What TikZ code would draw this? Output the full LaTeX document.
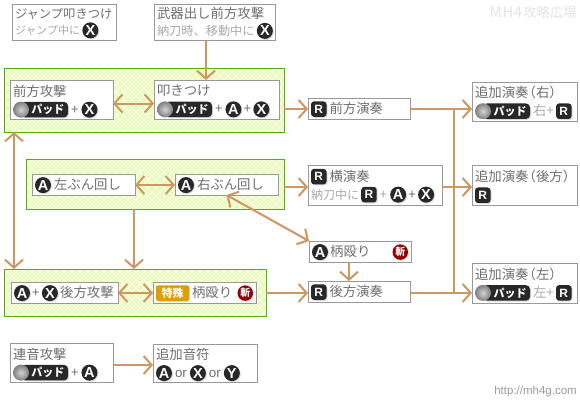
\documentclass[tikz,border=0pt]{standalone}
\usepackage{fontspec}
\setmainfont{Noto Sans CJK JP}
\newfontfamily\latinfont{Liberation Sans}
\usetikzlibrary{arrows.meta,patterns,shadows}

% White diagonal lattice of the panels
\pgfdeclarepatternformonly{lattice}{\pgfqpoint{-1pt}{-1pt}}{\pgfqpoint{9pt}{9pt}}{\pgfqpoint{8pt}{8pt}}{
    \pgfsetlinewidth{.6pt}
    \pgfpathmoveto{\pgfqpoint{0pt}{0pt}}\pgfpathlineto{\pgfqpoint{8pt}{8pt}}
    \pgfpathmoveto{\pgfqpoint{0pt}{8pt}}\pgfpathlineto{\pgfqpoint{8pt}{0pt}}
    \pgfusepath{stroke}}

\begin{document}
\begin{tikzpicture}[x=1pt,y=-1pt]

    % Colors
    \definecolor{linkcol}{RGB}{206,150,96}
    \definecolor{panelcol}{RGB}{236,250,190}
    \definecolor{panelline}{RGB}{85,176,0}
    \definecolor{boxline}{RGB}{153,153,153}
    \definecolor{maintext}{RGB}{110,110,110}
    \definecolor{subtext}{RGB}{170,170,170}
    \definecolor{btncol}{RGB}{40,40,40}
    \definecolor{tokucol}{RGB}{221,160,0}
    \definecolor{zancol}{RGB}{150,0,0}

    % Page: 580 x 400, 1 unit = 1 px
    \useasboundingbox (0,0) rectangle (580,400);

    % Styles
    \tikzset{
        panel/.style={draw=panelline, line width=1pt, preaction={fill=panelcol}, anchor=north west,
            pattern=lattice, pattern color=white, inner sep=0pt, outer sep=0pt},
        cbox/.style={draw=boxline, line width=1pt, fill=white, anchor=north west, align=left,
            inner xsep=3pt, inner ysep=0pt, outer sep=0pt, text=maintext,
            font=\fontsize{13.4}{18}\selectfont},
        link/.style={draw=linkcol, line width=2pt, >={Straight Barb[length=8pt,width=18pt]}},
        iconbase/.style={anchor=center, inner sep=0pt, outer sep=0pt, text=white, align=center,
            text width=, drop shadow={shadow xshift=1pt, shadow yshift=-1pt, opacity=.3}}
    }

    % Inline icons
    \def\iconb#1{\smash{\tikz[baseline={([yshift=-4.5pt]b.center)}]{#1}}}
    \def\btn#1{\iconb{\node[iconbase, circle, fill=btncol, minimum size=16pt,
        font=\latinfont\bfseries\fontsize{14.5}{14.5}\selectfont] (b) {#1};}}
    \def\rbtn#1{\iconb{\node[iconbase, rounded corners=3pt, fill=btncol, minimum size=15.5pt,
        font=\latinfont\bfseries\fontsize{12}{12}\selectfont] (b) {#1};}}
    \def\zan{\iconb{\node[iconbase, circle, fill=zancol, minimum size=15.5pt,
        font=\bfseries\fontsize{10}{10}\selectfont] (b) {斬};}}
    \def\toku{\iconb{\node[iconbase, rounded corners=2pt, fill=tokucol, minimum width=33pt,
        minimum height=15.5pt, font=\bfseries\fontsize{11}{11}\selectfont] (b) {特殊};}}
    \def\pad{\iconb{\node[iconbase, rounded corners=4pt, fill=btncol, minimum width=47pt,
        minimum height=15.5pt, font=\bfseries\fontsize{11}{11}\selectfont] (b) {\hspace*{7pt}パッド};
        \node[anchor=center, text width=, circle, shading=radial, inner color=gray!35, outer color=gray,
            minimum size=16pt, inner sep=0pt, outer sep=0pt] (ball) at (b.west) {};}}
    \def\sub#1{{\color{subtext}#1}}
    \def\gap{\hspace{3pt}}
    \def\extra#1{\mbox{追加演奏\kern-6pt（#1）\kern-6pt}}

    % --- Green panels ---
    \node[panel, minimum width=280pt, minimum height=64pt] (gfront) at (4,68) {};
    \node[panel, minimum width=258pt, minimum height=50pt] (gspin) at (26,159) {};
    \node[panel, minimum width=262pt, minimum height=47pt] (gback) at (4,269) {};

    % --- Top row ---
    \node[cbox, text width=98pt, minimum height=36pt] (jump) at (12,4)
        {{\fontsize{12.3}{17}\selectfont ジャンプ叩きつけ}\\[-1.5pt]\sub{\fontsize{11}{17}\selectfont ジャンプ中に}\,\btn{X}};
    \node[cbox, text width=115pt, minimum height=36pt] (draw) at (154,4)
        {武器出し前方攻撃\\[-1.5pt]\sub{\fontsize{12.2}{17}\selectfont 納刀時、移動中に}\,\btn{X}};

    % --- Forward panel ---
    \node[cbox, text width=97pt, minimum height=39pt] (front) at (10,80)
        {前方攻撃\\\pad\gap+\gap\btn{X}};
    \node[cbox, text width=119pt, minimum height=39pt] (slam) at (154,80)
        {叩きつけ\\\pad\gap+\gap\btn{A}\,+\,\btn{X}};

    % --- Spin panel ---
    \node[cbox, text width=97pt, minimum height=21pt] (spinl) at (32,174)
        {\btn{A}\gap 左ぶん回し};
    \node[cbox, text width=97pt, minimum height=21pt] (spinr) at (175,174)
        {\btn{A}\gap 右ぶん回し};

    % --- Back panel ---
    \node[cbox, text width=101pt, minimum height=21pt] (back) at (11,282)
        {\btn{A}\,+\,\btn{X}\,後方攻撃};
    \node[cbox, text width=97pt, minimum height=21pt] (pommel) at (153,282)
        {\toku\gap 柄殴り\hfill\zan};

    % --- Bottom row ---
    \node[cbox, text width=97pt, minimum height=39pt] (echo) at (10,343)
        {連音攻撃\\\pad\gap+\gap\btn{A}};
    \node[cbox, text width=98pt, minimum height=38pt] (note) at (153,344)
        {追加音符\\\btn{A}\gap{\latinfont or}\gap\btn{X}\gap{\latinfont or}\gap\btn{Y}};

    % --- Middle column ---
    \node[cbox, text width=96pt, minimum height=21pt] (playf) at (308,98)
        {\rbtn{R}\gap 前方演奏};
    \node[cbox, text width=128pt, minimum height=40pt] (playy) at (308,165)
        {\rbtn{R}\gap 横演奏\\\sub{\fontsize{12}{18}\selectfont 納刀中に}\,\rbtn{R}\gap\sub{+}\gap\btn{A}\,+\,\btn{X}};
    \node[cbox, text width=96pt, minimum height=21pt] (strike) at (309,241)
        {\btn{A}\,柄殴り\hfill\zan};
    \node[cbox, text width=96pt, minimum height=21pt] (playb) at (308,281)
        {\rbtn{R}\gap 後方演奏};

    % --- Right column ---
    \node[cbox, text width=99pt, minimum height=39pt] (extr) at (472,82)
        {\extra{右}\\\pad\gap\sub{右+}\,\rbtn{R}};
    \node[cbox, text width=99pt, minimum height=40pt] (extb) at (472,165)
        {\extra{後方}\\\rbtn{R}};
    \node[cbox, text width=99pt, minimum height=40pt] (extl) at (472,263)
        {\extra{左}\\\pad\gap\sub{左+}\,\rbtn{R}};

    % --- Connector guides ---
    \coordinate (railx) at (454,200);
    \coordinate (sidex) at (14,200);
    \coordinate (dropx) at (134,240);
    \coordinate (drawx) at (206,60);
    \coordinate (strx) at (349,270);
    \coordinate (rowf) at (400,109);
    \coordinate (rowy) at (400,187);
    \coordinate (rowb) at (400,293);

    % --- Connectors ---
    \draw[link,->] (drawx |- draw.south) -- (drawx |- slam.north);
    \draw[link,<->] ([yshift=-4pt]front.east) -- ([yshift=-4pt]front.east -| slam.west);
    \draw[link,->] (gfront.east |- rowf) -- (playf.west |- rowf);
    \draw[link,->] (playf.east |- rowf) -- (extr.west |- rowf);
    \draw[link] (railx |- rowf) -- (railx |- rowb);

    \draw[link,<->] ([yshift=-.5pt]spinl.east) -- ([yshift=-.5pt]spinr.west);
    \draw[link,->] (gspin.east |- rowy) -- (playy.west |- rowy);
    \draw[link,->] (playy.east |- rowy) -- (extb.west |- rowy);
    \draw[link,<->] (spinr.south) -- (strike.north west);
    \draw[link,->] (strx |- strike.south) -- (strx |- playb.north);

    \draw[link,<->] (sidex |- gfront.south) -- (sidex |- gback.north);
    \draw[link,->] (dropx |- gspin.south) -- (dropx |- gback.north);

    \draw[link,<->] ([yshift=-.5pt]back.east) -- ([yshift=-.5pt]pommel.west);
    \draw[link,->] (gback.east |- rowb) -- (playb.west |- rowb);
    \draw[link,->] (playb.east |- rowb) -- (extl.west |- rowb);

    \draw[link,->] ([yshift=-2.5pt]echo.east) -- ([yshift=-2.5pt]echo.east -| note.west);

    % --- Site marks ---
    \node[anchor=east, inner sep=0pt, text=gray!22, font=\fontsize{13.4}{13.4}\selectfont] (mark) at (577,12)
        {\fontsize{14.5}{14.5}\selectfont M\kern1pt H\kern1pt 4\kern1pt\fontsize{13.4}{13.4}\selectfont 攻略広場};
    \node[anchor=east, inner sep=0pt, text=gray!80, font=\latinfont\fontsize{11.5}{11.5}\selectfont] (url) at (577,392) {http://mh4g.com};

\end{tikzpicture}
\end{document}
